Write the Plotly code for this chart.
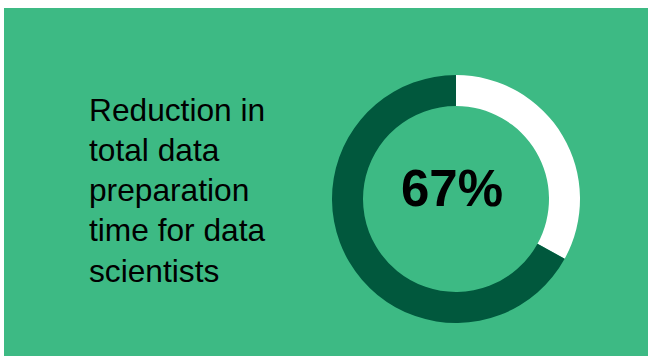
import plotly.graph_objects as go

# Data
segment_labels = ["Remaining", "Reduction"]
segment_values = [33, 67]
center_label = "67%"
description_lines = ["Reduction in", "total data", "preparation", "time for data", "scientists"]

BG = "#3DBA84"
DARK = "#01583D"
W, H = 648, 356
ML, MT = 4, 8
PW, PH = W - ML, H - MT

def px_x(x):
    return (x - ML) / PW

def px_y(y):
    return (H - y) / PH

fig = go.Figure()
fig.add_trace(go.Pie(
    labels=segment_labels,
    values=segment_values,
    hole=0.75,
    sort=False,
    direction="clockwise",
    rotation=0,
    marker=dict(colors=["#FFFFFF", DARK], line=dict(width=0)),
    textinfo="none",
    hoverinfo="none",
    showlegend=False,
    domain=dict(x=[px_x(332), px_x(580)], y=[px_y(323), px_y(75)]),
))

fig.add_shape(type="rect", xref="paper", yref="paper", x0=0, x1=1, y0=0, y1=1,
              fillcolor=BG, line=dict(width=0), layer="below")

fig.add_annotation(text="<b>" + center_label + "</b>", x=px_x(451.5), y=px_y(188.5),
                   xref="paper", yref="paper", xanchor="center", yanchor="middle",
                   showarrow=False, font=dict(family="Liberation Sans, Arial", size=51, color="#000000"))

for i, line in enumerate(description_lines):
    yc = 109.6 + i * 40.25
    fig.add_annotation(text=line, x=px_x(87), y=px_y(yc), xref="paper", yref="paper",
                       xanchor="left", yanchor="middle", showarrow=False,
                       font=dict(family="Liberation Sans, Arial", size=31.7, color="#000000"))

fig.update_layout(width=W, height=H, margin=dict(l=ML, r=0, t=MT, b=0, pad=0),
                  paper_bgcolor="#FFFFFF", plot_bgcolor=BG)

fig.write_html("out.html")
